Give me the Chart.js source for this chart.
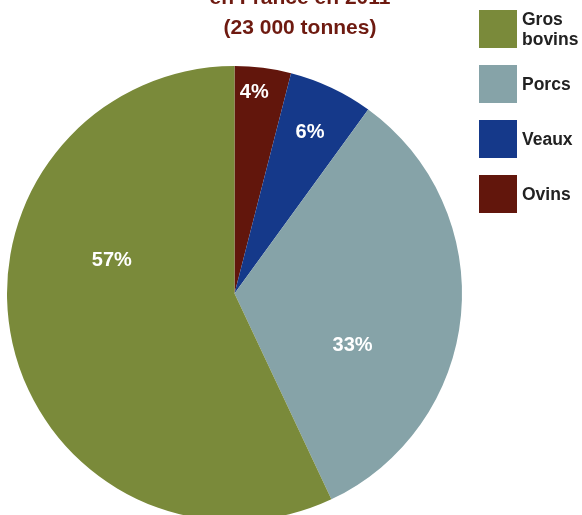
<!DOCTYPE html>
<html>
<head>
<meta charset="utf-8">
<script src="https://cdn.jsdelivr.net/npm/chart.js@4/dist/chart.umd.min.js"></script>
<style>
  html, body { margin: 0; padding: 0; background: #fff; overflow: hidden; }
  body { width: 582px; height: 515px; position: relative; font-family: "Liberation Sans", Arial, sans-serif; }
  #chartBox { position: absolute; left: 0; top: 0; width: 582px; height: 530px; }
  #title {
    position: absolute; left: 150px; top: -18px; width: 300px;
    text-align: center; font-weight: bold; font-size: 21px; line-height: 30px;
    color: #6e1a10;
  }
  #legend { position: absolute; left: 479px; top: 10px; margin: 0; padding: 0; list-style: none; }
  #legend li { display: flex; align-items: center; height: 38px; margin-bottom: 17px; }
  #legend .box { width: 38px; height: 38px; flex: none; margin-right: 5px; }
  #legend .txt { width: 64px; font-weight: bold; font-size: 17.5px; line-height: 20px; color: #222; }
</style>
</head>
<body>
<div id="chartBox"><canvas id="pie"></canvas></div>
<div id="title">en France en 2011<br>(23 000 tonnes)</div>
<ul id="legend"></ul>
<script>
// data, in drawing order (clockwise from 12 o'clock)
const categories = ['Ovins', 'Veaux', 'Porcs', 'Gros bovins'];
const shares = [4, 6, 33, 57]; // %
const colors = ['#62160c', '#15398a', '#86a3a8', '#7a8a3a'];

// where each % label sits: [fraction of the slice angle, fraction of the radius]
const labelSpots = [[0.39, 0.89], [0.50, 0.78], [0.656, 0.568], [0.634, 0.558]];

const pctLabels = {
  id: 'pctLabels',
  afterDatasetsDraw(chart) {
    const ctx = chart.ctx;
    const meta = chart.getDatasetMeta(0);
    ctx.save();
    ctx.font = 'bold 20px "Liberation Sans", Arial, sans-serif';
    ctx.fillStyle = '#fff';
    ctx.textAlign = 'center';
    ctx.textBaseline = 'middle';
    meta.data.forEach((arc, i) => {
      const p = arc.getProps(['x', 'y', 'startAngle', 'endAngle', 'outerRadius'], true);
      const spot = labelSpots[i];
      const a = p.startAngle + spot[0] * (p.endAngle - p.startAngle);
      const r = p.outerRadius * spot[1];
      ctx.fillText(shares[i] + '%', p.x + r * Math.cos(a), p.y + r * Math.sin(a));
    });
    ctx.restore();
  }
};

const chart = new Chart(document.getElementById('pie'), {
  type: 'pie',
  data: {
    labels: categories,
    datasets: [{ data: shares, backgroundColor: colors, borderWidth: 0 }]
  },
  options: {
    responsive: true,
    maintainAspectRatio: false,
    animation: false,
    layout: { padding: { left: 7, top: 66, right: 120, bottom: 9 } },
    plugins: {
      legend: { display: false },
      tooltip: { enabled: false }
    }
  },
  plugins: [pctLabels]
});

// html legend, listed in reverse order like the original
const items = Chart.overrides.pie.plugins.legend.labels.generateLabels(chart).reverse();
const ul = document.getElementById('legend');
items.forEach(item => {
  const li = document.createElement('li');
  const box = document.createElement('span');
  box.className = 'box';
  box.style.background = item.fillStyle;
  const txt = document.createElement('span');
  txt.className = 'txt';
  txt.textContent = item.text;
  li.appendChild(box);
  li.appendChild(txt);
  ul.appendChild(li);
});
</script>
</body>
</html>
